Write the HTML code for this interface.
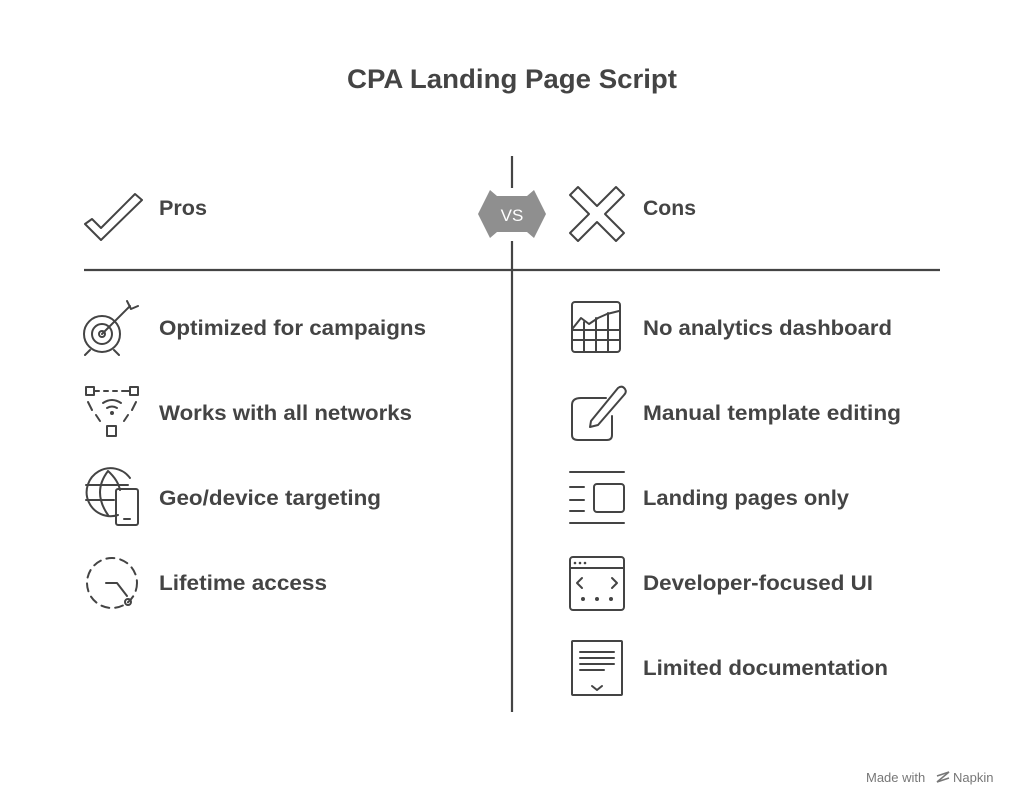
<!DOCTYPE html>
<html><head><meta charset="utf-8"><style>
body{margin:0;background:#fff}
svg{display:block}
text{font-family:"Liberation Sans",Arial,sans-serif;fill:#444;font-weight:bold}
</style></head><body>
<svg width="1024" height="811" viewBox="0 0 1024 811" xmlns="http://www.w3.org/2000/svg">
<text x="347" y="88" font-size="27" textLength="330" lengthAdjust="spacingAndGlyphs">CPA Landing Page Script</text>
<g stroke="#444" stroke-width="2.2" fill="none">
<line x1="512" y1="156" x2="512" y2="188"/>
<line x1="512" y1="241" x2="512" y2="712"/>
<line x1="84" y1="270" x2="940" y2="270"/>
</g>
<polygon points="478,214 490,190 497,196 527,196 534,190 546,214 534,238 527,232 497,232 490,238" fill="#8f8f8f"/>
<text x="512" y="221" text-anchor="middle" font-size="17" style="fill:#fff;font-weight:normal">VS</text>
<text x="159" y="215" font-size="21" textLength="48" lengthAdjust="spacingAndGlyphs">Pros</text>
<text x="643" y="215" font-size="21" textLength="53" lengthAdjust="spacingAndGlyphs">Cons</text>
<g font-size="21">
<text x="159" y="335" textLength="267" lengthAdjust="spacingAndGlyphs">Optimized for campaigns</text>
<text x="159" y="420" textLength="253" lengthAdjust="spacingAndGlyphs">Works with all networks</text>
<text x="159" y="505" textLength="222" lengthAdjust="spacingAndGlyphs">Geo/device targeting</text>
<text x="159" y="590" textLength="168" lengthAdjust="spacingAndGlyphs">Lifetime access</text>
<text x="643" y="335" textLength="249" lengthAdjust="spacingAndGlyphs">No analytics dashboard</text>
<text x="643" y="420" textLength="258" lengthAdjust="spacingAndGlyphs">Manual template editing</text>
<text x="643" y="505" textLength="206" lengthAdjust="spacingAndGlyphs">Landing pages only</text>
<text x="643" y="590" textLength="230" lengthAdjust="spacingAndGlyphs">Developer-focused UI</text>
<text x="643" y="675" textLength="245" lengthAdjust="spacingAndGlyphs">Limited documentation</text>
</g>
<g stroke="#444" stroke-width="2" fill="none" stroke-linejoin="round" stroke-linecap="round">
<path d="M85,224 L101,240 L142,200 L135,194 L101,228 L92,219 Z"/>
<path d="M578,187 L597,206 L616,187 L624,195 L605,214 L624,233 L616,241 L597,222 L578,241 L570,233 L589,214 L570,195 Z"/>
<circle cx="102" cy="334" r="18"/><circle cx="102" cy="334" r="10"/><circle cx="102" cy="334" r="3"/>
<path d="M102,334 L130,306 M127,301 L131,309 L138,306 M90,350 L85,355 M114,350 L119,355"/>
<rect x="86" y="387" width="8" height="8"/><rect x="130" y="387" width="8" height="8"/><rect x="107" y="426" width="9" height="10"/>
<path d="M95,391 L99,391 M104,391 L108,391 M113,391 L117,391 M122,391 L129,391" />
<path d="M88,402 L92,410 M96,415 L100,421 M136,402 L132,410 M128,415 L124,421" />
<path d="M103,403 Q112,397 121,403 M107,408 Q112,405 117,408"/>
<circle cx="112" cy="413" r="1" fill="#444"/>
<path d="M118,515 A24,24 0 1 1 130,478"/>
<path d="M108,471 Q92,492 108,515 M108,471 Q118,480 120,490 M86,485 L128,485 M86,500 L114,500"/>
<rect x="116" y="489" width="22" height="36" rx="2"/><line x1="124" y1="519" x2="130" y2="519"/>
<circle cx="112" cy="583" r="25" stroke-dasharray="8,6"/>
<path d="M106,583 L117,583 L127,596"/><circle cx="128" cy="602" r="3"/>
<rect x="572" y="302" width="48" height="50" rx="3"/>
<path d="M573,328 L581,318 L589,324 L598,318 L607,314 L619,311 M573,330 L619,330 M573,340 L619,340 M584,322 L584,352 M596,318 L596,352 M608,313 L608,352"/>
<path d="M606,398 L581,398 Q572,398 572,405 L572,435 Q572,440 578,440 L607,440 Q612,440 612,435 L612,416"/>
<path d="M591,421 L618,388 Q622,385 625,389 Q627,392 624,395 L598,425 L590,427 Z"/>
<path d="M570,472 L624,472 M570,523 L624,523 M570,487 L584,487 M570,500 L584,500 M570,511 L584,511"/>
<rect x="594" y="484" width="30" height="28" rx="3"/>
<rect x="570" y="557" width="54" height="53" rx="3"/>
<line x1="570" y1="568" x2="624" y2="568"/>
<path d="M582,578 L577,583 L582,588 M612,578 L617,583 L612,588"/>
<rect x="572" y="641" width="50" height="54" rx="1"/>
<path d="M580,652 L614,652 M580,658 L614,658 M580,664 L614,664 M580,670 L604,670 M592,686 L597,690 L602,686"/>
</g>
<g fill="#444">
<circle cx="575" cy="563" r="1.3"/><circle cx="580" cy="563" r="1.3"/><circle cx="585" cy="563" r="1.3"/>
<circle cx="583" cy="599" r="2"/><circle cx="597" cy="599" r="2"/><circle cx="611" cy="599" r="2"/>
</g>
<text x="866" y="782" font-size="13" style="font-weight:normal;fill:#777">Made with</text>
<path d="M937,776 L949,772 L937,782 L949,778" stroke="#777" stroke-width="1.5" fill="none"/>
<text x="953" y="782" font-size="13" style="font-weight:normal;fill:#777">Napkin</text>
</svg>
</body></html>
